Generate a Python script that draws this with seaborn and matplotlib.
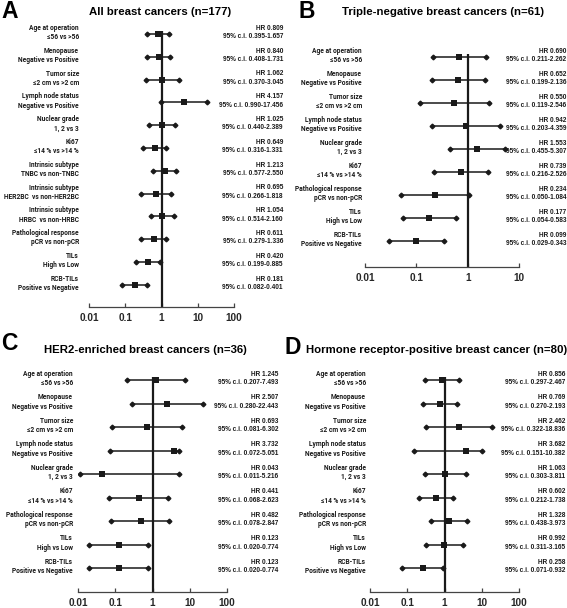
import matplotlib
matplotlib.use("Agg")
import matplotlib.pyplot as plt
import matplotlib.transforms as mtransforms
from matplotlib.ticker import NullLocator
import pandas as pd
import seaborn as sns

# ---- data ----
labels_all = ["Age at operation\n≤56 vs >56",
              "Menopause\nNegative vs Positive",
              "Tumor size\n≤2 cm vs >2 cm",
              "Lymph node status\nNegative vs Positive",
              "Nuclear grade\n1, 2 vs 3",
              "Ki67\n≤14 % vs >14 %",
              "Intrinsic subtype\nTNBC vs non-TNBC",
              "Intrinsic subtype\nHER2BC  vs non-HER2BC",
              "Intrinsic subtype\nHRBC  vs non-HRBC",
              "Pathological response\npCR vs non-pCR",
              "TILs\nHigh vs Low",
              "RCB-TILs\nPositive vs Negative"]
labels_sub = labels_all[:6] + labels_all[9:]

hr_a = [0.809, 0.840, 1.062, 4.157, 1.025, 0.649, 1.213, 0.695, 1.054, 0.611, 0.420, 0.181]
lo_a = [0.395, 0.408, 0.370, 0.990, 0.440, 0.316, 0.577, 0.266, 0.514, 0.279, 0.199, 0.082]
hi_a = [1.657, 1.731, 3.045, 17.456, 2.389, 1.331, 2.550, 1.818, 2.160, 1.336, 0.885, 0.401]

hr_b = [0.690, 0.652, 0.550, 0.942, 1.553, 0.739, 0.234, 0.177, 0.099]
lo_b = [0.211, 0.199, 0.119, 0.203, 0.455, 0.216, 0.050, 0.054, 0.029]
hi_b = [2.262, 2.136, 2.546, 4.359, 5.307, 2.526, 1.084, 0.583, 0.343]

hr_c = [1.245, 2.507, 0.693, 3.732, 0.043, 0.441, 0.482, 0.123, 0.123]
lo_c = [0.207, 0.280, 0.081, 0.072, 0.011, 0.068, 0.078, 0.020, 0.020]
hi_c = [7.493, 22.443, 6.302, 5.051, 5.216, 2.623, 2.847, 0.774, 0.774]

hr_d = [0.856, 0.769, 2.462, 3.682, 1.063, 0.602, 1.328, 0.992, 0.258]
lo_d = [0.297, 0.270, 0.322, 0.151, 0.303, 0.212, 0.438, 0.311, 0.071]
hi_d = [2.467, 2.193, 18.836, 10.382, 3.811, 1.738, 3.973, 3.165, 0.932]

ticks_ab = [0.01, 0.1, 1, 10, 100]
tick_labels = ["0.01", "0.1", "1", "10", "100"]

sns.set_theme(style="white")
plt.rcParams['font.family'] = ['Liberation Sans', 'DejaVu Sans']
plt.rcParams['font.weight'] = 'bold'
LABEL_FONT = ['Roboto', 'DejaVu Sans']

W, H = 567, 608
fig = plt.figure(figsize=(W / 100, H / 100), dpi=100, facecolor='white')
INK = '#1a1a1a'


def draw_panel(letter, title, labels, hr, lo, hi, xmax, lay):
    n = len(labels)
    top = lay['row0'] - 0.5 * lay['step']
    gap = (lay['axis'] - lay['row0']) / lay['step'] - (n - 1)
    ax = fig.add_axes([lay['x0'] / W, 1 - lay['axis'] / H,
                       (lay['x1'] - lay['x0']) / W, (lay['axis'] - top) / H])
    ax.set_xscale('log')
    ax.set_xlim(0.01, xmax)
    ax.set_ylim(n - 1 + gap, -0.5)

    df = pd.DataFrame({'row': range(n), 'hr': hr, 'lo': lo, 'hi': hi})
    ax.vlines(1, -0.12, n - 1 + gap, color=INK, lw=1.6, zorder=1)
    ax.hlines(df['row'], df['lo'], df['hi'], color=INK, lw=1.1, zorder=2)
    ax.plot(df['lo'], df['row'], 'D', color=INK, ms=2.4, zorder=3)
    ax.plot(df['hi'], df['row'], 'D', color=INK, ms=2.4, zorder=3)
    sns.scatterplot(data=df, x='hr', y='row', marker='s', s=22, color=INK,
                    edgecolor=INK, linewidth=0, ax=ax, zorder=4)

    for s in ['top', 'right', 'left']:
        ax.spines[s].set_visible(False)
    ax.spines['bottom'].set_color('#444444')
    ax.spines['bottom'].set_linewidth(0.9)
    ticks = [t for t in ticks_ab if t <= xmax]
    ax.set_xticks(ticks)
    ax.set_xticklabels(tick_labels[:len(ticks)], fontsize=7.2, fontweight='bold')
    ax.xaxis.set_minor_locator(NullLocator())
    ax.tick_params(axis='x', direction='in', length=3, width=0.9,
                   color='#444444', pad=4, bottom=True)
    ax.set_yticks([])
    ax.set_xlabel('')
    ax.set_ylabel('')
    ax.patch.set_alpha(0)

    trans = mtransforms.blended_transform_factory(fig.transFigure, ax.transData)
    trans = mtransforms.offset_copy(trans, fig=fig, y=1.5, units='dots')
    for i in range(n):
        ax.text(lay['lab'] / W, i, labels[i], transform=trans, ha='right',
                va='center', fontsize=4.8, fontweight='bold', color=INK,
                family=LABEL_FONT, linespacing=1.2, clip_on=False)
        ax.text(lay['hrx'] / W, i,
                f"HR {hr[i]:.3f}\n95% c.i. {lo[i]:.3f}-{hi[i]:.3f}",
                transform=trans, ha='right', va='center', fontsize=4.7,
                fontweight='bold', color=INK, linespacing=1.25, clip_on=False)

    fig.text(lay['tx'] / W, 1 - lay['ty'] / H, title, ha='center', va='center',
             fontsize=8.2, fontweight='bold', color='black')
    fig.text(lay['lx'] / W, 1 - lay['ly'] / H, letter, ha='left', va='center',
             fontsize=16.5, fontweight='bold', color='black')
    return ax


draw_panel("A", "All breast cancers (n=177)", labels_all, hr_a, lo_a, hi_a, 100,
           dict(x0=89, x1=234, row0=34, step=22.8, axis=307, lab=79, hrx=283,
                tx=160, ty=12, lx=1, ly=11))
draw_panel("B", "Triple-negative breast cancers (n=61)", labels_sub, hr_b, lo_b, hi_b, 10,
           dict(x0=365, x1=519, row0=57, step=23, axis=267, lab=362, hrx=566,
                tx=443, ty=12, lx=298, ly=11))
draw_panel("C", "HER2-enriched breast cancers (n=36)", labels_sub, hr_c, lo_c, hi_c, 100,
           dict(x0=78, x1=227, row0=380, step=23.5, axis=592, lab=73, hrx=278,
                tx=145, ty=350, lx=1, ly=344))
draw_panel("D", "Hormone receptor-positive breast cancer (n=80)", labels_sub, hr_d, lo_d, hi_d, 100,
           dict(x0=370, x1=519, row0=380, step=23.5, axis=592, lab=366, hrx=565,
                tx=437, ty=350, lx=285, ly=347))

fig.savefig('out.png', dpi=100, facecolor='white')
